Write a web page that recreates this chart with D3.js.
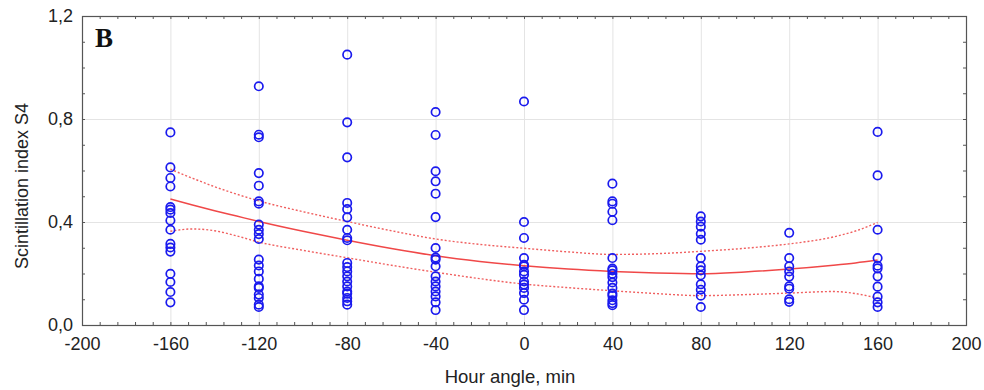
<!DOCTYPE html>
<html>
<head>
<meta charset="utf-8">
<script src="https://cdn.jsdelivr.net/npm/d3@7"></script>
<style>
  html, body { margin: 0; padding: 0; background: #fff; }
  svg { display: block; }
</style>
</head>
<body>
<svg id="chart" width="984" height="390"></svg>
<script>
// Hour angle groups (min) and scintillation index S4 measured in each group
const hourAngles = [-160, -120, -80, -40, 0, 40, 80, 120, 160];
const s4Values = [
  [0.748, 0.612, 0.571, 0.538, 0.458, 0.448, 0.435, 0.406, 0.370, 0.315, 0.301, 0.285, 0.199, 0.167, 0.128, 0.088],
  [0.927, 0.739, 0.729, 0.590, 0.541, 0.480, 0.471, 0.390, 0.370, 0.353, 0.334, 0.254, 0.231, 0.208, 0.179, 0.150, 0.144, 0.118, 0.105, 0.079, 0.070],
  [1.050, 0.787, 0.651, 0.474, 0.450, 0.418, 0.370, 0.338, 0.329, 0.241, 0.225, 0.208, 0.189, 0.169, 0.150, 0.130, 0.122, 0.105, 0.092, 0.079],
  [0.827, 0.738, 0.597, 0.558, 0.510, 0.419, 0.299, 0.262, 0.254, 0.228, 0.189, 0.169, 0.150, 0.130, 0.111, 0.088, 0.058],
  [0.868, 0.400, 0.338, 0.260, 0.234, 0.228, 0.208, 0.195, 0.169, 0.157, 0.144, 0.124, 0.098, 0.058],
  [0.549, 0.480, 0.471, 0.440, 0.407, 0.260, 0.219, 0.212, 0.199, 0.186, 0.165, 0.144, 0.122, 0.114, 0.096, 0.085, 0.077],
  [0.422, 0.402, 0.382, 0.354, 0.331, 0.260, 0.228, 0.212, 0.193, 0.158, 0.137, 0.114, 0.070],
  [0.358, 0.260, 0.228, 0.208, 0.188, 0.150, 0.141, 0.100, 0.090],
  [0.750, 0.581, 0.370, 0.260, 0.230, 0.220, 0.189, 0.149, 0.110, 0.088, 0.070]
];

// Fitted trend and its confidence band
const fitX     = [-160, -150, -140, -130, -120, -100, -80, -60, -40, -20, 0, 20, 40, 60, 80, 100, 120, 140, 150, 160];
const fitMean  = [0.489, 0.466, 0.444, 0.423, 0.402, 0.364, 0.329, 0.297, 0.269, 0.247, 0.230, 0.217, 0.208, 0.202, 0.199, 0.206, 0.217, 0.232, 0.241, 0.252];
const fitUpper = [0.605, 0.570, 0.537, 0.508, 0.482, 0.440, 0.402, 0.366, 0.334, 0.313, 0.298, 0.284, 0.274, 0.277, 0.286, 0.298, 0.315, 0.342, 0.365, 0.398];
const fitLower = [0.364, 0.373, 0.366, 0.346, 0.322, 0.290, 0.261, 0.232, 0.205, 0.180, 0.159, 0.145, 0.133, 0.122, 0.114, 0.118, 0.124, 0.130, 0.122, 0.104];

// Axis ticks
const xTicks = [-200, -160, -120, -80, -40, 0, 40, 80, 120, 160, 200];
const yTicks = [0, 0.4, 0.8, 1.2];
const yTickLabels = ["0,0", "0,4", "0,8", "1,2"];

const SANS = "Liberation Sans, Arial, sans-serif";
const svg = d3.select("#chart");
const W = 984, H = 390;
const m = { left: 82, right: 18, top: 16, bottom: 65 };
const iw = W - m.left - m.right, ih = H - m.top - m.bottom;

const x = d3.scaleLinear().domain([-200, 200]).range([0, iw]);
const y = d3.scaleLinear().domain([0, 1.2]).range([ih, 0]);

const g = svg.append("g").attr("transform", `translate(${m.left},${m.top})`);

// Light grid at the major ticks
g.append("g").selectAll("line")
  .data(xTicks.slice(1, -1)).join("line")
  .attr("x1", d => x(d) + 0.5).attr("x2", d => x(d) + 0.5)
  .attr("y1", 0).attr("y2", ih)
  .attr("stroke", "#e4e4e4").attr("stroke-width", 1);
g.append("g").selectAll("line")
  .data(yTicks.slice(1, -1)).join("line")
  .attr("y1", d => y(d) + 0.5).attr("y2", d => y(d) + 0.5)
  .attr("x1", 0).attr("x2", iw)
  .attr("stroke", "#e4e4e4").attr("stroke-width", 1);

// Minor inward ticks on all four sides
const xMinor = d3.range(-200, 200.1, 8);
const yMinor = d3.range(0, 1.2001, 0.1);
const tickLen = 3;
const tk = g.append("g").attr("stroke", "#555").attr("stroke-width", 1);
tk.append("g").selectAll("line").data(xMinor).join("line")
  .attr("x1", d => x(d) + 0.5).attr("x2", d => x(d) + 0.5)
  .attr("y1", ih).attr("y2", ih - tickLen);
tk.append("g").selectAll("line").data(xMinor).join("line")
  .attr("x1", d => x(d) + 0.5).attr("x2", d => x(d) + 0.5)
  .attr("y1", 0).attr("y2", tickLen);
tk.append("g").selectAll("line").data(yMinor).join("line")
  .attr("y1", d => y(d) + 0.5).attr("y2", d => y(d) + 0.5)
  .attr("x1", 0).attr("x2", tickLen);
tk.append("g").selectAll("line").data(yMinor).join("line")
  .attr("y1", d => y(d) + 0.5).attr("y2", d => y(d) + 0.5)
  .attr("x1", iw).attr("x2", iw - tickLen);

// Tick labels via d3 axes (plain hyphen for negatives)
const xAxis = g.append("g").attr("transform", `translate(0,${ih})`)
  .call(d3.axisBottom(x).tickValues(xTicks).tickSize(0).tickPadding(12).tickFormat(d => String(d)));
const yAxis = g.append("g")
  .call(d3.axisLeft(y).tickValues(yTicks).tickSize(0).tickPadding(9)
    .tickFormat((d, i) => yTickLabels[i]));
[xAxis, yAxis].forEach(a => {
  a.select(".domain").remove();
  a.selectAll("text").attr("font-size", 18).attr("fill", "#222")
    .attr("font-family", SANS);
});

// Frame
g.append("rect").attr("x", 0.5).attr("y", 0.5).attr("width", iw).attr("height", ih)
  .attr("fill", "none").attr("stroke", "#555").attr("stroke-width", 1.2);

// Confidence band and trend
const lineGen = arr => d3.line().curve(d3.curveMonotoneX)
  .x((d, i) => x(fitX[i])).y(d => y(d))(arr);
g.append("path").attr("d", lineGen(fitUpper)).attr("fill", "none")
  .attr("stroke", "#f06060").attr("stroke-width", 1.4).attr("stroke-dasharray", "2,2");
g.append("path").attr("d", lineGen(fitLower)).attr("fill", "none")
  .attr("stroke", "#f06060").attr("stroke-width", 1.4).attr("stroke-dasharray", "2,2");
g.append("path").attr("d", lineGen(fitMean)).attr("fill", "none")
  .attr("stroke", "#f04848").attr("stroke-width", 1.5);

// Observations as open circles
const pts = hourAngles.flatMap((h, i) => s4Values[i].map(v => ({ h, v })));
g.append("g").selectAll("circle").data(pts).join("circle")
  .attr("cx", d => x(d.h)).attr("cy", d => y(d.v)).attr("r", 4.2)
  .attr("fill", "none").attr("stroke", "#1a1aee").attr("stroke-width", 1.7);

// Panel letter
g.append("text").attr("x", 13).attr("y", 31)
  .attr("font-family", "Liberation Serif, Times New Roman, serif")
  .attr("font-weight", "bold").attr("font-size", 27).attr("fill", "#111")
  .text("B");

// Axis titles
svg.append("text").attr("x", 510).attr("y", 383).attr("text-anchor", "middle")
  .attr("font-family", SANS).attr("font-size", 18.5).attr("fill", "#222")
  .text("Hour angle, min");
svg.append("text").attr("transform", "translate(28,186) rotate(-90)")
  .attr("text-anchor", "middle").attr("font-family", SANS).attr("font-size", 18)
  .attr("fill", "#222").text("Scintillation index S4");
</script>
</body>
</html>
